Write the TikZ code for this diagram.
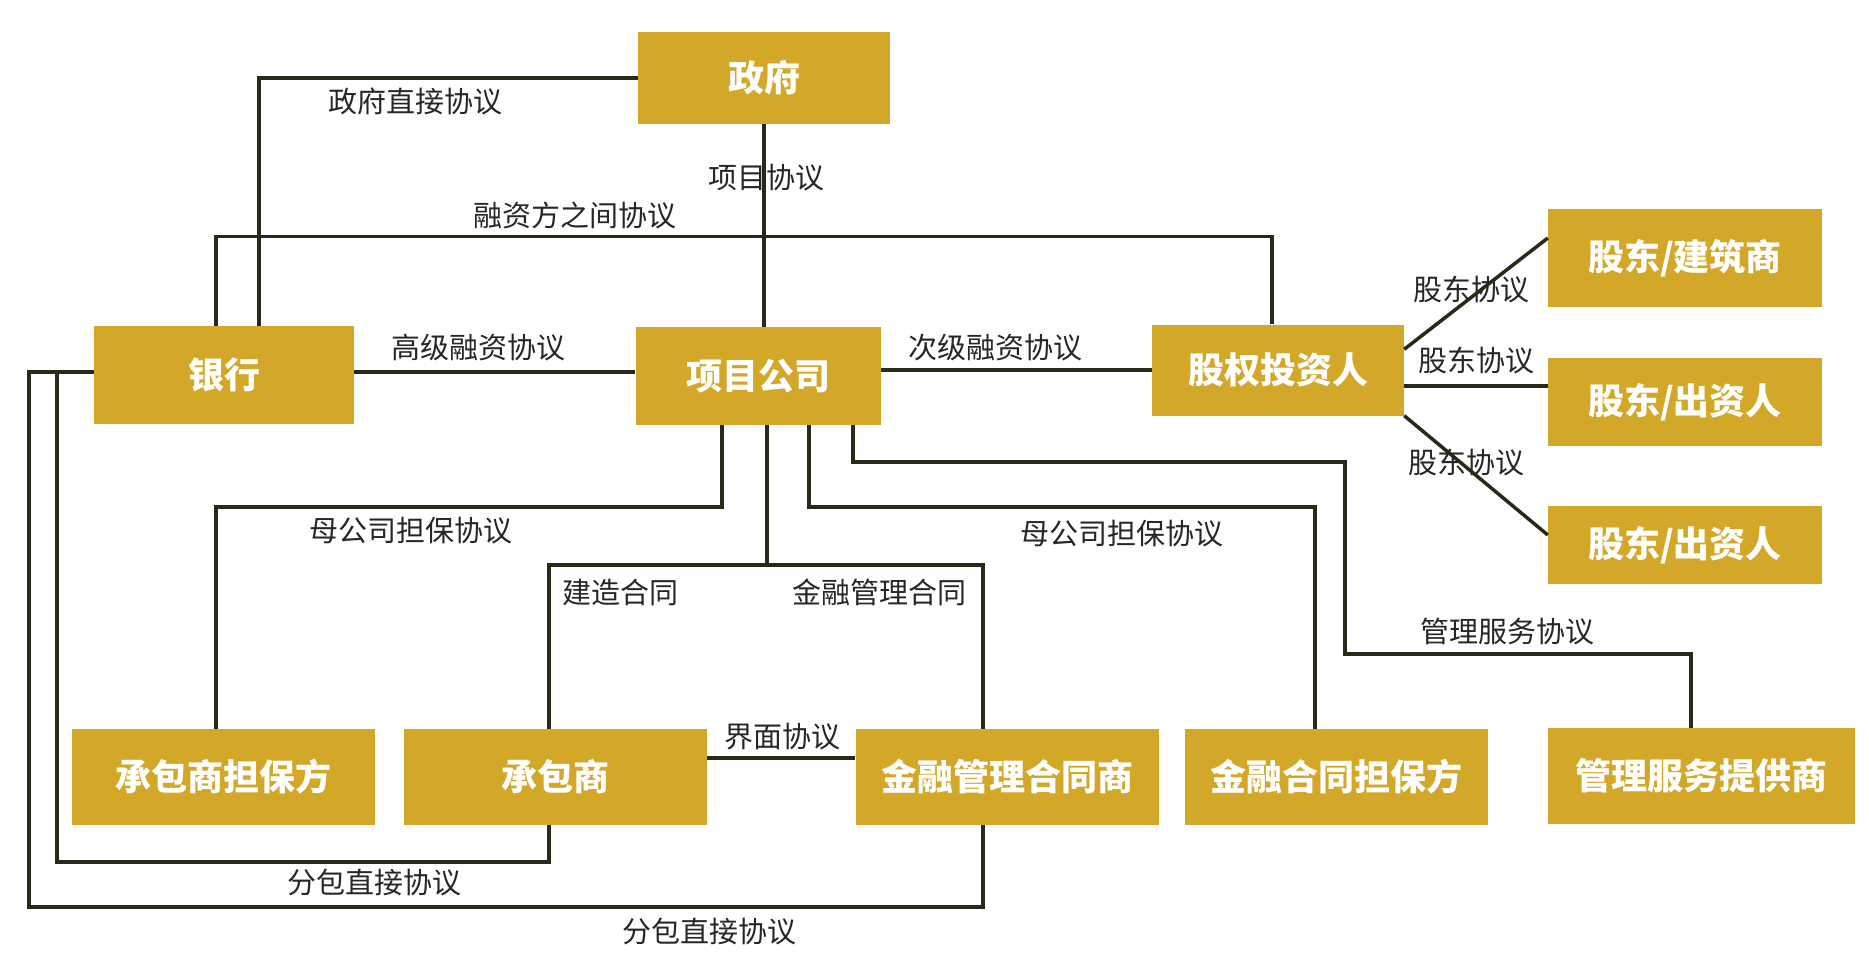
\documentclass[tikz,border=0pt]{standalone}
\usepackage{fontspec}
\newfontfamily\cjk{Noto Sans CJK SC}
\usetikzlibrary{positioning,calc}
\definecolor{boxgold}{HTML}{D3A828}
\definecolor{wire}{HTML}{2A2816}
\tikzset{
  party/.style={fill=boxgold,text=white,font=\cjk\bfseries\fontsize{36}{40}\selectfont,
    inner sep=0pt,minimum width=303pt,minimum height=96pt},
  pact/.style={font=\cjk\fontsize{29}{32}\selectfont,text=black!85,inner sep=0pt},
  link/.style={draw=wire,line width=3.5pt}
}
\begin{document}
\begin{tikzpicture}[x=1pt,y=-1pt,node distance=144pt,on grid]
  \useasboundingbox (0,0) rectangle (1869,969);
  % parties
  \node[party,minimum width=252pt,minimum height=92pt] (gov)    at (764,78)   {政府};
  \node[party,minimum width=260pt,minimum height=98pt] (bank)   at (224,375)  {银行};
  \node[party,minimum width=245pt,minimum height=98pt] (pc)     at (758,376)  {项目公司};
  \node[party,minimum width=252pt,minimum height=91pt] (equity) at (1278,370) {股权投资人};
  \node[party,minimum width=274pt,minimum height=98pt] (sh1)    at (1685,258) {股东/建筑商};
  \node[party,minimum width=274pt,minimum height=88pt] (sh2)    [below=of sh1]      {股东/出资人};
  \node[party,minimum width=274pt,minimum height=78pt] (sh3)    [below=143pt of sh2] {股东/出资人};
  \node[party]                      (cg)  at (223,777)          {承包商担保方};
  \node[party]                      (con) [right=332pt of cg]   {承包商};
  \node[party]                      (fmc) [right=452pt of con]  {金融管理合同商};
  \node[party]                      (fg)  [right=329pt of fmc]  {金融合同担保方};
  \node[party,minimum width=307pt]  (msp) at (1701,776)         {管理服务提供商};

  % agreements
  \node[pact] (lgov)    at (415,101)  {政府直接协议};
  \node[pact] (lproj)   at (766,178)  {项目协议};
  \node[pact] (lfin)    at (575,215)  {融资方之间协议};
  \node[pact] (lsenior) at (478,348)  {高级融资协议};
  \node[pact] (lsub)    at (995,348)  {次级融资协议};
  \node[pact] (lsh1)    at (1471,289) {股东协议};
  \node[pact] (lsh2)    at (1476,360) {股东协议};
  \node[pact] (lsh3)    at (1466,462) {股东协议};
  \node[pact] (lpg1)    at (411,531)  {母公司担保协议};
  \node[pact] (lpg2)    at (1122,534) {母公司担保协议};
  \node[pact] (lbuild)  at (620,592)  {建造合同};
  \node[pact] (lfm)     at (879,592)  {金融管理合同};
  \node[pact] (lms)     at (1507,632) {管理服务协议};
  \node[pact] (lif)     at (782,737)  {界面协议};
  \node[pact] (ldir1)   at (374,882)  {分包直接协议};
  \node[pact] (ldir2)   at (709,931)  {分包直接协议};

  \path[link] (gov.west) -| ([xshift=35pt]bank.north);
  \path[link] (gov.south) -- (gov.south |- pc.north);
  \path[link] ([xshift=-8pt]bank.north) |- ([xshift=-6pt,yshift=88pt]equity.north)
              -- ([xshift=-6pt]equity.north);
  \path[link] ([yshift=3pt]bank.east) -- ([yshift=3pt]bank.east -| pc.west);
  \path[link] ([yshift=6pt]pc.east) -- ([yshift=6pt]pc.east -| equity.west);
  \path[link] ([yshift=-25pt]equity.north east) -- ([yshift=20pt]sh1.west);
  \path[link] ([yshift=-16pt]equity.east) -- ([yshift=-16pt]equity.east -| sh2.west);
  \path[link] (equity.south east) -- ([yshift=10pt]sh3.west);
  \path[link] ([xshift=-36pt]pc.south) -- ++(0,82) -| ([xshift=-7pt]cg.north);
  \path[link] ([xshift=9pt]pc.south) -- ++(0,140) coordinate (fork) -| ([xshift=-6pt]con.north);
  \path[link] (fork) -| ([xshift=-24pt]fmc.north);
  \path[link] ([xshift=51pt]pc.south) -- ++(0,82) -| ([xshift=-21pt]fg.north);
  \path[link] ([xshift=95pt]pc.south) -- ++(0,37) -- ++(492,0) -- ++(0,192)
              -| ([xshift=-10pt]msp.north);
  \path[link] ([yshift=19pt]con.east) -- ([yshift=19pt]con.east -| fmc.west);
  \path[link] ([xshift=-6pt]con.south) -- ++(0,37) -| ([xshift=-37pt,yshift=3pt]bank.west)
              -- ([yshift=3pt]bank.west);
  \path[link] ([xshift=-24pt]fmc.south) -- ++(0,82) -| ([xshift=-65pt,yshift=3pt]bank.west)
              -- ([yshift=3pt]bank.west);
\end{tikzpicture}
\end{document}
